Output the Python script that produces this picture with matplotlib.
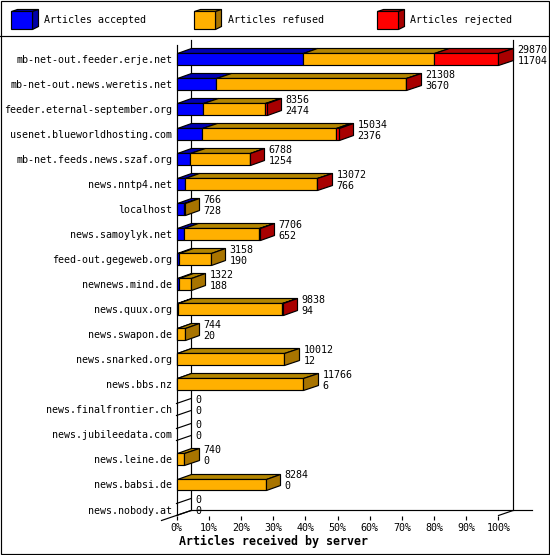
import matplotlib
matplotlib.use("Agg")
import matplotlib.pyplot as plt
from matplotlib.patches import Polygon, Rectangle

plt.rcParams['font.family'] = ['DejaVu Sans Mono']

# Data
servers = ["mb-net-out.feeder.erje.net", "mb-net-out.news.weretis.net",
           "feeder.eternal-september.org", "usenet.blueworldhosting.com",
           "mb-net.feeds.news.szaf.org", "news.nntp4.net", "localhost",
           "news.samoylyk.net", "feed-out.gegeweb.org", "newnews.mind.de",
           "news.quux.org", "news.swapon.de", "news.snarked.org", "news.bbs.nz",
           "news.finalfrontier.ch", "news.jubileedata.com", "news.leine.de",
           "news.babsi.de", "news.nobody.at"]
totals = [29870, 21308, 8356, 15034, 6788, 13072, 766, 7706, 3158, 1322,
          9838, 744, 10012, 11766, 0, 0, 740, 8284, 0]
accepted = [11704, 3670, 2474, 2376, 1254, 766, 728, 652, 190, 188,
            94, 20, 12, 6, 0, 0, 0, 0, 0]
rejected = [5944, 15, 110, 280, 12, 12, 0, 12, 0, 0,
            12, 0, 0, 0, 0, 0, 0, 0, 0]
refused = [t - a - r for t, a, r in zip(totals, accepted, rejected)]
tick_percents = [0, 10, 20, 30, 40, 50, 60, 70, 80, 90, 100]
legend_names = ["Articles accepted", "Articles refused", "Articles rejected"]

# Colours: front, top, side
FRONT = ["#0000ff", "#ffb000", "#ff0000"]
TOP = ["#0000b4", "#b48600", "#b40000"]
SIDE = ["#0000a8", "#a87400", "#a80000"]

W, H = 550, 555
LEFT, RIGHT, TOP_PX, BOTTOM_PX = 176.5, 498.5, 45.5, 515.5
ROW_PX = 25.0
FIRST_ROW_PX = 59.5
LINE = 0.85
FONT = 7.2

fig = plt.figure(figsize=(W / 100, H / 100), dpi=100, facecolor="white")

# Frame and legend, in pixels
bg = fig.add_axes([0, 0, 1, 1])
bg.set_xlim(0, W)
bg.set_ylim(H, 0)
bg.axis("off")
shape = dict(ec="black", lw=LINE, snap=True)
bg.add_patch(Rectangle((0.5, 0.5), W - 1.5, H - 1.5, fc="none", **shape))
bg.plot([0, W], [35.5, 35.5], color="black", lw=LINE)
for x0, name, f, t, s in zip([10.5, 193.5, 376.5], legend_names, FRONT, TOP, SIDE):
    bg.add_patch(Polygon([(x0, 10.5), (x0 + 6.5, 8.5), (x0 + 27.5, 8.5), (x0 + 21, 10.5)], fc=t, **shape))
    bg.add_patch(Polygon([(x0 + 21, 10.5), (x0 + 27.5, 8.5), (x0 + 27.5, 26), (x0 + 21, 28.5)], fc=s, **shape))
    bg.add_patch(Rectangle((x0, 10.5), 21, 18, fc=f, **shape))
    bg.text(x0 + 34, 20, name, fontsize=FONT, ha="left", va="center")

# Main plot
ax = fig.add_axes([LEFT / W, 1 - BOTTOM_PX / H, (RIGHT - LEFT) / W, (BOTTOM_PX - TOP_PX) / H])
ax.patch.set_alpha(0)
x_max = max(totals)
ax.set_xlim(0, x_max)
ax.set_ylim((BOTTOM_PX - FIRST_ROW_PX) / ROW_PX, (TOP_PX - FIRST_ROW_PX) / ROW_PX)

px_x = x_max / (RIGHT - LEFT)
depth_x = 14.6 * px_x
depth_y = 5 / ROW_PX
half = 6 / ROW_PX
y_floor = ax.get_ylim()[0]
y_top = ax.get_ylim()[1]

# Walls and floor
wall = dict(color="black", lw=LINE, clip_on=False, zorder=1)
ax.plot([depth_x, depth_x], [y_top - depth_y, y_floor - depth_y], **wall)
ax.plot([x_max + depth_x, x_max + depth_x], [y_top - depth_y, y_floor - depth_y], **wall)
ax.plot([depth_x, x_max + 33 * px_x], [y_floor - depth_y, y_floor - depth_y], **wall)
ax.plot([x_max, x_max + depth_x], [y_floor, y_floor - depth_y], **wall)
ax.plot([-15 * px_x, depth_x], [y_floor + depth_y, y_floor - depth_y], **wall)

bar = dict(shape, clip_on=False)
for i, server in enumerate(servers):
    y0, y1 = i - half, i + half
    if totals[i] == 0:
        ax.plot([0, depth_x], [y0, y0 - depth_y], **wall)
        ax.plot([0, depth_x], [y1, y1 - depth_y], **wall)
    left = 0
    last = None
    for k, value in enumerate([accepted[i], refused[i], rejected[i]]):
        if value <= 0:
            continue
        right = left + value
        ax.add_patch(Polygon([(left, y0), (left + depth_x, y0 - depth_y),
                              (right + depth_x, y0 - depth_y), (right, y0)],
                             fc=TOP[k], zorder=3, **bar))
        ax.add_patch(Rectangle((left, y0), value, y1 - y0, fc=FRONT[k], zorder=4, **bar))
        left = right
        last = k
    if last is not None:
        ax.add_patch(Polygon([(left, y0), (left + depth_x, y0 - depth_y),
                              (left + depth_x, y1 - depth_y), (left, y1)],
                             fc=SIDE[last], zorder=5, **bar))
    ax.annotate(str(totals[i]), (totals[i], i), xytext=(13.7, 6.5), textcoords="offset points",
                fontsize=FONT, ha="left", va="center", annotation_clip=False, zorder=6)
    ax.annotate(str(accepted[i]), (totals[i], i), xytext=(13.7, -1.4), textcoords="offset points",
                fontsize=FONT, ha="left", va="center", annotation_clip=False, zorder=6)

ax.set_yticks(range(len(servers)))
ax.set_yticklabels(servers, fontsize=FONT)
ax.tick_params(axis="y", length=0, pad=3.2)
ax.set_xticks([p / 100 * x_max for p in tick_percents])
ax.set_xticklabels([f"{p}%" for p in tick_percents], fontsize=FONT)
ax.tick_params(axis="x", length=3.2, width=LINE, pad=2.5, color="black")

for side in ["top", "right", "bottom"]:
    ax.spines[side].set_visible(False)
ax.spines["left"].set_linewidth(LINE)

bg.text(273.5, 541.5, "Articles received by server", fontsize=8.4, fontweight="bold",
        ha="center", va="center")

plt.savefig("out.png", dpi=100)
